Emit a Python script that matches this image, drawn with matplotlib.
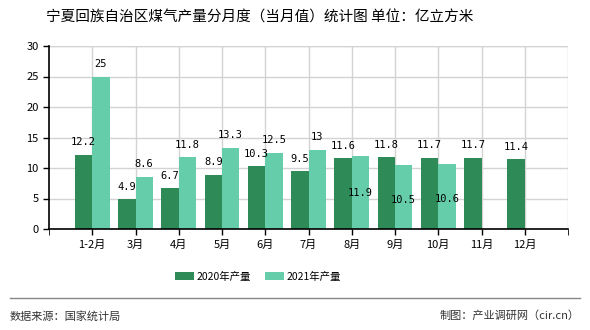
import matplotlib
matplotlib.use("Agg")
import matplotlib.pyplot as plt
from matplotlib.lines import Line2D

plt.rcParams['font.family'] = ['Noto Sans CJK SC', 'DejaVu Sans']

months = ['1-2月', '3月', '4月', '5月', '6月', '7月', '8月', '9月', '10月', '11月', '12月']
output_2020 = [12.2, 4.9, 6.7, 8.9, 10.3, 9.5, 11.6, 11.8, 11.7, 11.7, 11.4]
output_2021 = [25, 8.6, 11.8, 13.3, 12.5, 13, 11.9, 10.5, 10.6]

dark = '#2E8B57'
light = '#66CDAA'

fig = plt.figure(figsize=(5.9, 3.3), dpi=100)
ax = fig.add_axes([49 / 590, 1 - 229 / 330, 519 / 590, 183 / 330])

w = 0.4
x20 = [i - w / 2 for i in range(len(output_2020))]
x21 = [i + w / 2 for i in range(len(output_2021))]
ax.bar(x20, output_2020, width=w, color=dark, label='2020年产量', zorder=2)
ax.bar(x21, output_2021, width=w, color=light, label='2021年产量', zorder=2)

# labels above bars; a few 2021 labels sit inside the bar so they don't collide
mono = 'DejaVu Sans Mono'
for x, v in zip(x20, output_2020):
    ax.annotate(f'{v:g}', (x, v), xytext=(0, 9), textcoords='offset points',
                ha='center', va='center', fontsize=7.5, family=mono, zorder=3)
shift21 = {6: -26, 7: -25, 8: -25}
for i, (x, v) in enumerate(zip(x21, output_2021)):
    dy = shift21.get(i, 9)
    ax.annotate(f'{v:g}', (x, v), xytext=(0, dy), textcoords='offset points',
                ha='center', va='center', fontsize=7.5, family=mono, zorder=3)

ax.set_xlim(-1, len(months))
ax.set_ylim(0, 30)
ax.set_yticks(range(0, 31, 5))
ax.set_xticks(range(len(months)))
ax.set_xticklabels(months)
ax.set_xticks([-1, len(months)], minor=True)
ax.tick_params(axis='both', labelsize=8, length=4, width=1, color='black')
ax.tick_params(axis='x', which='minor', length=4)
ax.grid(True, color='#d3d3d3', linewidth=1, zorder=0)
for s in ['top', 'right']:
    ax.spines[s].set_visible(False)
for s in ['left', 'bottom']:
    ax.spines[s].set_linewidth(1.2)
ax.axvline(len(months), color='#d3d3d3', linewidth=1, zorder=0)
ax.axhline(30, color='#d3d3d3', linewidth=1, zorder=0)

fig.text(260 / 590, 1 - 18 / 330, '宁夏回族自治区煤气产量分月度（当月值）统计图 单位：亿立方米',
         ha='center', va='center', fontsize=10.5, fontweight='medium')

fig.legend(loc='center', bbox_to_anchor=(258 / 590, 1 - 277 / 330), ncol=2, frameon=False,
           fontsize=7.5, handlelength=1.8, handleheight=0.8, handletextpad=0.3,
           columnspacing=1.3)

fig.add_artist(Line2D([10 / 590, 580 / 590], [1 - 298 / 330] * 2, color='#888888', linewidth=1))
fig.text(10 / 590, 1 - 316 / 330, '数据来源：国家统计局', ha='left', va='center', fontsize=8, color='#333333')
fig.text(580 / 590, 1 - 316 / 330, '制图：产业调研网（cir.cn）', ha='right', va='center', fontsize=8, color='#333333')

fig.savefig('out.png', dpi=100)
